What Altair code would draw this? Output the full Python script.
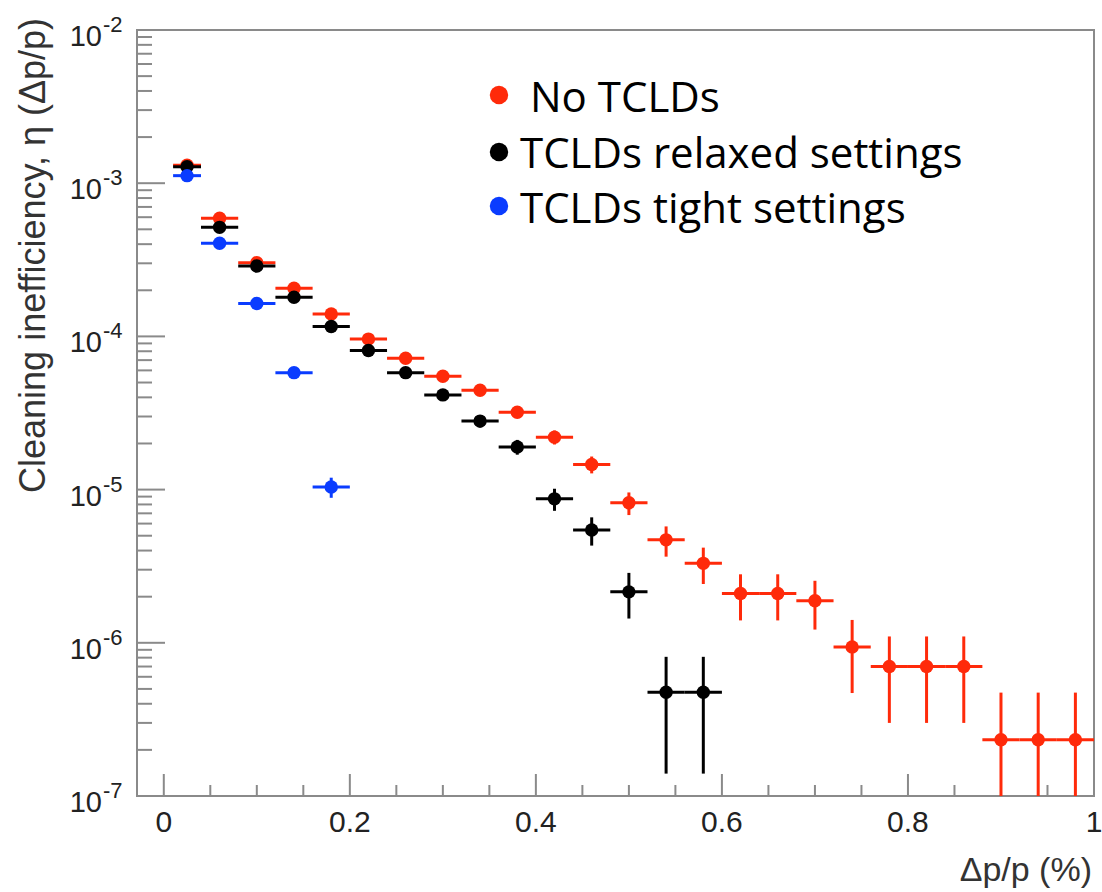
import altair as alt
import pandas as pd

# ---- data -------------------------------------------------------------
# bin centres and edges in momentum offset dp/p (%)
bin_centers = [0.025, 0.06, 0.10, 0.14, 0.18, 0.22, 0.26, 0.30, 0.34, 0.38,
               0.42, 0.46, 0.50, 0.54, 0.58, 0.62, 0.66, 0.70, 0.74, 0.78,
               0.82, 0.86, 0.90, 0.94, 0.98]
bin_edges = [0.01, 0.04, 0.08, 0.12, 0.16, 0.20, 0.24, 0.28, 0.32, 0.36,
             0.40, 0.44, 0.48, 0.52, 0.56, 0.60, 0.64, 0.68, 0.72, 0.76,
             0.80, 0.84, 0.88, 0.92, 0.96, 1.00]

# cleaning inefficiency and its statistical error, per series
no_tclds = [1.31e-3, 5.9e-4, 3.03e-4, 2.06e-4, 1.40e-4, 9.6e-5, 7.2e-5, 5.5e-5,
            4.45e-5, 3.2e-5, 2.2e-5, 1.46e-5, 8.2e-6, 4.7e-6, 3.3e-6, 2.1e-6,
            2.1e-6, 1.88e-6, 9.4e-7, 7.0e-7, 7.0e-7, 7.0e-7, 2.33e-7, 2.33e-7,
            2.33e-7]
no_tclds_err = [1.75e-5, 1.17e-5, 8.4e-6, 6.9e-6, 5.7e-6, 4.7e-6, 4.1e-6, 3.6e-6,
                3.2e-6, 2.7e-6, 2.3e-6, 1.84e-6, 1.38e-6, 1.05e-6, 8.8e-7, 7.0e-7,
                7.0e-7, 6.6e-7, 4.7e-7, 4.0e-7, 4.0e-7, 4.0e-7, 2.4e-7, 2.4e-7,
                2.4e-7]

relaxed = [1.28e-3, 5.15e-4, 2.88e-4, 1.80e-4, 1.16e-4, 8.1e-5, 5.8e-5, 4.15e-5,
           2.8e-5, 1.9e-5, 8.7e-6, 5.45e-6, 2.15e-6, 4.75e-7, 4.75e-7]
relaxed_err = [1.7e-5, 1.1e-5, 8.2e-6, 6.5e-6, 5.2e-6, 4.4e-6, 3.7e-6, 3.1e-6,
               2.6e-6, 2.1e-6, 1.43e-6, 1.14e-6, 7.1e-7, 3.35e-7, 3.35e-7]

tight = [1.12e-3, 4.06e-4, 1.64e-4, 5.8e-5, 1.04e-5]
tight_err = [1.6e-5, 9.7e-6, 6.2e-6, 3.7e-6, 1.56e-6]

series_names = ["No TCLDs", "TCLDs relaxed settings", "TCLDs tight settings"]
series_colors = ["#ff2a0a", "#000000", "#0a3cff"]

x_tick_labels = ["0", "0.2", "0.4", "0.6", "0.8", "1"]
x_major = [0.0, 0.2, 0.4, 0.6, 0.8, 1.0]
y_exponents = [-7, -6, -5, -4, -3, -2]

x_title = "\u0394p/p (%)"
y_title = "Cleaning inefficiency, \u03b7 (\u0394p/p)"

# ---- layout -----------------------------------------------------------
W, H = 957, 766
YMIN, YMAX = 1e-7, 1e-2
AXIS_GREY = "#8a8a8a"
FONT = "Liberation Sans"
LEGEND_FONT = "Open Sans"

xscale = alt.Scale(domain=[-0.0288, 1.0], nice=False, zero=False)
yscale = alt.Scale(type="log", domain=[YMIN, YMAX], nice=False)


def series_frame(values, errors):
    n = len(values)
    return pd.DataFrame({
        "x": bin_centers[:n],
        "xlo": bin_edges[:n],
        "xhi": bin_edges[1:n + 1],
        "v": values,
        "lo": [max(v - e, YMIN) for v, e in zip(values, errors)],
        "hi": [v + e for v, e in zip(values, errors)],
    })


def series_layers(df, color):
    base = alt.Chart(df)
    hbar = base.mark_rule(color=color, strokeWidth=3).encode(
        x=alt.X("xlo:Q", scale=xscale, axis=None),
        x2="xhi:Q",
        y=alt.Y("v:Q", scale=yscale, axis=None),
    )
    vbar = base.mark_rule(color=color, strokeWidth=3, clip=True).encode(
        x=alt.X("x:Q", scale=xscale, axis=None),
        y=alt.Y("lo:Q", scale=yscale, axis=None),
        y2="hi:Q",
    )
    pts = base.mark_circle(color=color, size=180, opacity=1).encode(
        x=alt.X("x:Q", scale=xscale, axis=None),
        y=alt.Y("v:Q", scale=yscale, axis=None),
    )
    return [hbar, vbar, pts]


layers = []
for vals, errs, col in [(no_tclds, no_tclds_err, series_colors[0]),
                        (relaxed, relaxed_err, series_colors[1]),
                        (tight, tight_err, series_colors[2])]:
    layers += series_layers(series_frame(vals, errs), col)

# ---- inward ticks (ROOT style) ---------------------------------------
y_major_df = pd.DataFrame({"v": [10.0 ** e for e in y_exponents]})
y_minor_df = pd.DataFrame({"v": [m * 10.0 ** e for e in y_exponents[:-1]
                                 for m in range(2, 10)]})
x_major_df = pd.DataFrame({"v": x_major})
x_minor_df = pd.DataFrame({"v": [round(0.05 * k, 2) for k in range(1, 20)
                                 if k % 4 != 0]})

y_major_ticks = alt.Chart(y_major_df).mark_rule(color=AXIS_GREY, strokeWidth=2).encode(
    y=alt.Y("v:Q", scale=yscale, axis=None), x=alt.value(0), x2=alt.value(28))
y_minor_ticks = alt.Chart(y_minor_df).mark_rule(color=AXIS_GREY, strokeWidth=2).encode(
    y=alt.Y("v:Q", scale=yscale, axis=None), x=alt.value(0), x2=alt.value(15))
x_major_ticks = alt.Chart(x_major_df).mark_rule(color=AXIS_GREY, strokeWidth=2).encode(
    x=alt.X("v:Q", scale=xscale, axis=None), y=alt.value(H), y2=alt.value(H - 22))
x_minor_ticks = alt.Chart(x_minor_df).mark_rule(color=AXIS_GREY, strokeWidth=2).encode(
    x=alt.X("v:Q", scale=xscale, axis=None), y=alt.value(H), y2=alt.value(H - 11))

# ---- tick labels ------------------------------------------------------
y_lab_df = pd.DataFrame({
    "v": [10.0 ** e for e in y_exponents],
    "base": ["10"] * len(y_exponents),
    "exp": [str(e) for e in y_exponents],
})
y_base_labels = alt.Chart(y_lab_df).mark_text(
    align="right", baseline="alphabetic", fontSize=29, dy=16, font=FONT, color="#222222"
).encode(y=alt.Y("v:Q", scale=yscale, axis=None), x=alt.value(-35), text="base:N")
y_exp_labels = alt.Chart(y_lab_df).mark_text(
    align="left", baseline="alphabetic", fontSize=22, dy=2, font=FONT, color="#222222"
).encode(y=alt.Y("v:Q", scale=yscale, axis=None), x=alt.value(-34), text="exp:N")

x_lab_df = pd.DataFrame({"v": x_major, "lab": x_tick_labels})
x_labels = alt.Chart(x_lab_df).mark_text(
    align="center", baseline="alphabetic", fontSize=30, font=FONT, color="#222222"
).encode(x=alt.X("v:Q", scale=xscale, axis=None), y=alt.value(H + 36), text="lab:N")

# ---- axis titles ------------------------------------------------------
x_title_mark = alt.Chart(pd.DataFrame({"t": [x_title]})).mark_text(
    align="right", baseline="alphabetic", fontSize=34, font=FONT, color="#333333"
).encode(x=alt.value(955), y=alt.value(851), text="t:N")
y_title_mark = alt.Chart(pd.DataFrame({"t": [y_title]})).mark_text(
    align="right", baseline="alphabetic", fontSize=36, font=FONT, color="#333333", angle=270
).encode(x=alt.value(-92), y=alt.value(-12), text="t:N")

# ---- legend -----------------------------------------------------------
legend_rows = [(362, 65, 393, 82), (362, 122, 383, 138), (362, 176, 383, 193)]
legend_layers = []
for name, col, (dx, dyy, tx, ty) in zip(series_names, series_colors, legend_rows):
    ldf = pd.DataFrame({"t": [name]})
    legend_layers.append(alt.Chart(ldf).mark_circle(color=col, size=340, opacity=1).encode(
        x=alt.value(dx), y=alt.value(dyy)))
    legend_layers.append(alt.Chart(ldf).mark_text(
        align="left", baseline="alphabetic", fontSize=42, font=LEGEND_FONT, color="#000000"
    ).encode(x=alt.value(tx), y=alt.value(ty), text="t:N"))

chart = alt.layer(
    y_minor_ticks, y_major_ticks, x_minor_ticks, x_major_ticks,
    *layers,
    y_base_labels, y_exp_labels, x_labels, x_title_mark, y_title_mark,
    *legend_layers,
).properties(
    width=W, height=H,
    padding={"left": 137, "top": 30, "right": 8, "bottom": 96},
    autosize=alt.AutoSizeParams(type="none"),
    background="white",
).configure_view(stroke=AXIS_GREY, strokeWidth=2)

chart.save("out.html", embed_options={"renderer": "svg", "actions": False})
